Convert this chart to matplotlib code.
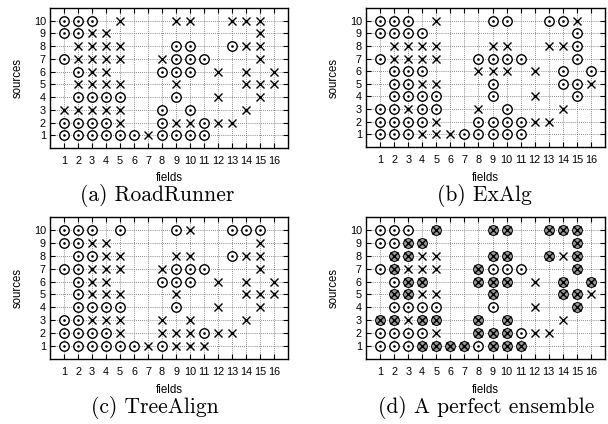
import numpy as np
import matplotlib
matplotlib.use("Agg")
import matplotlib.pyplot as plt

# marks per source row (10 down to 1), one char per field 1..16
# o = circle, x = cross, b = both, . = nothing
roadrunner = [
    "ooo.x...xx..xxx.",
    "ooxx..........x.",
    ".xxxx...oo..oxx.",
    "oxxxx..xooo...x.",
    ".oxx...ooo.x.x.x",
    ".xxxx...x....xxx",
    ".oooo...o..x..x.",
    "xxxxx..o.o...x..",
    "oooox..oxxoxx...",
    "ooooooxoooo.....",
]
exalg = [
    "ooo.x...oo..oox.",
    "oooo..........o.",
    ".xxxx...xx..xxo.",
    "oxxxx..oooo...o.",
    ".ooo...xxx.x.o.o",
    ".ooxx...o....oox",
    ".oooo...o..x..o.",
    "ooxoo..x.o...x..",
    "oooox..ooooxx...",
    "oooxxxooooo.....",
]
treealign = [
    "ooo.o...ox..ooo.",
    "ooxx..........x.",
    ".ooxx...xx..oxx.",
    "ooxxx..xooo...x.",
    ".oxx...ooo.x.x.x",
    ".oxxx...x....xxx",
    ".oooo...o..x..x.",
    "ooxxx..x.x...x..",
    "oooox..xxxoxx...",
    "ooooooxoxxx.....",
]
ensemble = [
    "ooo.b...bb..bbb.",
    "oobb..........b.",
    ".bbxx...bb..bxb.",
    "obxxx..booo...b.",
    ".obb...bbb.x.b.b",
    ".bbxx...b....bbx",
    ".oooo...o..x..b.",
    "bbxbb..b.b...x..",
    "oooox..bbboxx...",
    "ooobbbbobbb.....",
]
captions = ["(a) RoadRunner", "(b) ExAlg", "(c) TreeAlign", "(d) A perfect ensemble"]
fields = np.arange(1, 17)
sources = np.arange(1, 11)

W, H = 608, 424
fig = plt.figure(figsize=(W / 100, H / 100), dpi=100)

# axes boxes in pixels: left, right, top, bottom
boxes = [(50, 288, 8, 148), (366, 605, 8, 147), (50, 288, 217, 359), (366, 605, 217, 359)]
cap_pos = [(157, 201), (484, 201), (155, 413), (486, 413)]  # baseline
ylab_x = [18, 334, 18, 334]

tick_font = "Liberation Sans"

for k, grid in enumerate([roadrunner, exalg, treealign, ensemble]):
    l, r, t, b = boxes[k]
    ax = fig.add_axes([l / W, 1 - b / H, (r - l) / W, (b - t) / H])

    cx, cy, xx, xy, bx, by = [], [], [], [], [], []
    for i, row in enumerate(grid):
        src = sources[::-1][i]
        for j, c in enumerate(row):
            if c in "ob":
                cx.append(fields[j]); cy.append(src)
            if c in "xb":
                xx.append(fields[j]); xy.append(src)
            if c == "b":
                bx.append(fields[j]); by.append(src)

    ax.plot(cx, cy, "o", ms=6.8, mfc="white", mec="black", mew=1.0, zorder=3)
    ax.plot(bx, by, "o", ms=6.0, mfc="#999999", mec="none", zorder=3)
    ax.plot(cx, cy, ".", ms=1.8, color="black", zorder=4)
    ax.plot(xx, xy, "x", ms=6.3, color="black", mew=1.0, zorder=4)

    ax.set_xlim(0, 17)
    ax.set_ylim(0, 11)
    ax.set_xticks(fields)
    ax.set_yticks(sources)
    ax.set_xticklabels([str(v) for v in fields], fontsize=7.8, family=tick_font)
    ax.set_yticklabels([str(v) for v in sources], fontsize=7.8, family=tick_font)
    ax.tick_params(direction="in", length=3.5, width=0.8, top=True, right=True, pad=3)
    ax.tick_params(axis="x", pad=6)
    ax.grid(True, linestyle=(0, (1, 1.5)), color="#666666", linewidth=0.6)
    ax.set_axisbelow(True)
    for s in ax.spines.values():
        s.set_linewidth(1.0)

    fy = 178 if k < 2 else 178 + 212
    fig.text((l + r) / 2 / W, 1 - fy / H, "fields", ha="center", va="center",
             fontsize=8.3, family=tick_font)
    sy = (t + b) / 2
    fig.text(ylab_x[k] / W, 1 - sy / H, "sources", ha="center", va="center",
             rotation=90, fontsize=8.3, family=tick_font)
    px, py = cap_pos[k]
    fig.text(px / W, 1 - py / H, captions[k], ha="center", va="baseline",
             fontsize=15.5, family="cmr10")

fig.savefig("out.png", dpi=100)
